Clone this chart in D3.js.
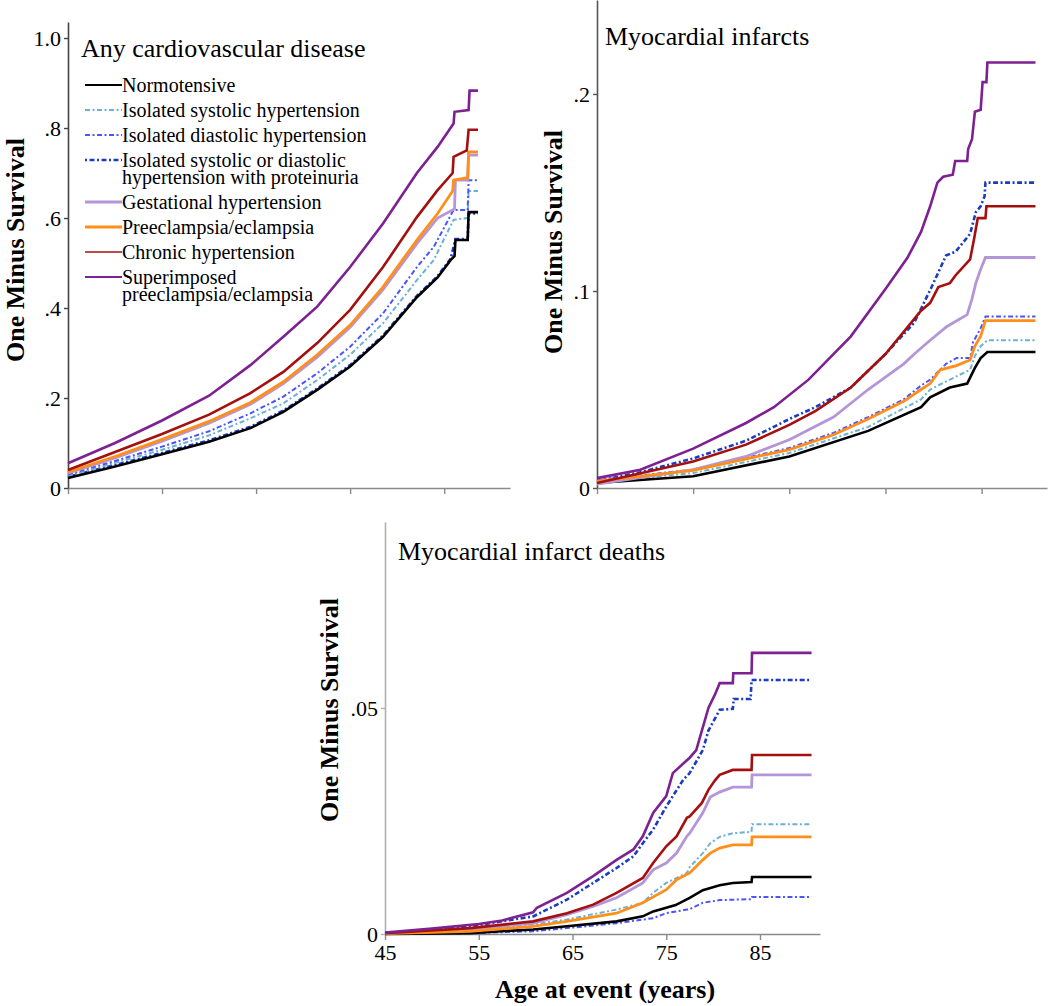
<!DOCTYPE html>
<html><head><meta charset="utf-8">
<script src="https://cdn.jsdelivr.net/npm/d3@7"></script>
<style>
body{margin:0;background:#fff}
svg{display:block}
text{font-family:"Liberation Serif","Times New Roman",serif;fill:#000}
</style>
</head><body>
<svg id="chart" width="1050" height="1006"></svg>
<script>
// ---------- categories ----------
const seriesNames = ["Normotensive","Isolated systolic hypertension","Isolated diastolic hypertension",
  "Isolated systolic or diastolic hypertension with proteinuria","Gestational hypertension",
  "Preeclampsia/eclampsia","Chronic hypertension","Superimposed preeclampsia/eclampsia"];
const legendLabels = [["Normotensive"],["Isolated systolic hypertension"],["Isolated diastolic hypertension"],
  ["Isolated systolic or diastolic","hypertension with proteinuria"],["Gestational hypertension"],
  ["Preeclampsia/eclampsia"],["Chronic hypertension"],["Superimposed","preeclampsia/eclampsia"]];
const panelTitles = ["Any cardiovascular disease","Myocardial infarcts","Myocardial infarct deaths"];
const yAxisTitle = "One Minus Survival";
const xAxisTitle = "Age at event (years)";

// ---------- tick values / labels ----------
const xTickValues = [45,55,65,75,85];
const xTickLabels = ["45","55","65","75","85"];
const cvdYTicks = [0,0.2,0.4,0.6,0.8,1.0];
const cvdYTickLabels = ["0",".2",".4",".6",".8","1.0"];
const miYTicks = [0,0.1,0.2];
const miYTickLabels = ["0",".1",".2"];
const deathYTicks = [0,0.05];
const deathYTickLabels = ["0",".05"];

// ---------- Any cardiovascular disease: [age, 1 - survival] ----------
const cvdNormo = [[45,0.022],[50,0.048],[55,0.075],[60,0.103],[64.4,0.133],[67.9,0.169],[71.5,0.218],[75,0.27],[78.5,0.336],[82.1,0.424],[84.3,0.468],[85.7,0.507],[86.1,0.515],[86.2,0.551],[87.5,0.551],[87.6,0.613],[88.6,0.613]];
const cvdSystolic = [[45,0.026],[50,0.056],[55,0.085],[60,0.117],[64.4,0.155],[67.9,0.188],[71.5,0.24],[75,0.296],[78.5,0.366],[82.1,0.462],[83.9,0.507],[86,0.596],[87.5,0.6],[87.6,0.66],[88.6,0.66]];
const cvdDiastolic = [[45,0.03],[50,0.06],[55,0.092],[60,0.126],[64.4,0.166],[67.9,0.203],[71.5,0.255],[75,0.314],[78.5,0.388],[82.1,0.491],[83.9,0.536],[86,0.618],[87.5,0.618],[87.6,0.684],[88.6,0.684]];
const cvdProteinuria = [[45,0.025],[50,0.051],[55,0.078],[60,0.106],[64.4,0.136],[67.9,0.172],[71.5,0.221],[75,0.273],[78.5,0.339],[82.1,0.427],[84.3,0.471],[85.7,0.51],[86.2,0.553],[87.5,0.553],[87.6,0.61],[88.6,0.61]];
const cvdGestational = [[45,0.033],[50,0.067],[55,0.104],[60,0.144],[64.4,0.186],[67.9,0.232],[71.5,0.291],[75,0.357],[78.5,0.441],[82.1,0.543],[84.3,0.6],[86.1,0.62],[86.2,0.684],[87.5,0.684],[87.6,0.74],[88.6,0.74]];
const cvdPreeclampsia = [[45,0.035],[50,0.07],[55,0.108],[60,0.148],[64.4,0.19],[67.9,0.236],[71.5,0.296],[75,0.362],[78.5,0.447],[82.1,0.551],[84.3,0.61],[85.9,0.66],[86,0.684],[87.5,0.69],[87.6,0.747],[88.6,0.747]];
const cvdChronic = [[45,0.04],[50,0.08],[55,0.12],[60,0.163],[64.4,0.211],[67.9,0.258],[71.5,0.322],[75,0.396],[78.5,0.491],[82.1,0.602],[84.3,0.662],[85.9,0.7],[86,0.736],[87.4,0.75],[87.6,0.796],[88.6,0.796]];
const cvdSuperimposed = [[45,0.055],[50,0.1],[55,0.15],[60,0.205],[64.4,0.273],[67.9,0.336],[71.5,0.403],[75,0.491],[78.5,0.588],[82.1,0.70],[84.3,0.758],[86,0.81],[86.1,0.836],[87.6,0.84],[87.7,0.883],[88.6,0.883]];

// ---------- Myocardial infarcts ----------
const miNormo = [[45,0.0025],[55,0.006],[65,0.016],[73.2,0.029],[78.7,0.041],[79.65,0.046],[81.7,0.051],[83.5,0.053],[84.3,0.061],[84.9,0.066],[85.6,0.069],[90.6,0.069]];
const miSystolic = [[45,0.003],[55,0.0076],[65,0.0178],[73.2,0.031],[78.7,0.045],[79.65,0.05],[82.1,0.056],[83.8,0.06],[84.3,0.067],[84.9,0.072],[85.6,0.075],[90.6,0.075]];
const miDiastolic = [[45,0.004],[55,0.0093],[65,0.0203],[69.6,0.028],[73.2,0.036],[76.9,0.045],[78.7,0.052],[79.65,0.055],[81.3,0.063],[82.4,0.066],[83.8,0.066],[84.1,0.074],[84.9,0.081],[85.4,0.087],[90.6,0.087]];
const miProteinuria = [[45,0.0035],[49.5,0.008],[55,0.015],[60.5,0.024],[65,0.035],[67.7,0.041],[71.4,0.051],[75,0.068],[78,0.084],[79.8,0.102],[81.3,0.118],[82.3,0.12],[83.8,0.129],[84.4,0.14],[84.9,0.143],[85.3,0.148],[85.4,0.155],[90.6,0.155]];
const miGestational = [[45,0.002],[55,0.0093],[60.5,0.016],[65,0.0245],[69.6,0.036],[73.2,0.05],[76.9,0.063],[78,0.068],[79.65,0.075],[81.4,0.082],[83.5,0.088],[84,0.096],[84.4,0.104],[84.9,0.111],[85.4,0.117],[90.6,0.117]];
const miPreeclampsia = [[45,0.0035],[55,0.009],[65,0.0195],[69.6,0.027],[73.2,0.035],[76.9,0.044],[78.7,0.05],[79.65,0.053],[80.7,0.06],[82.3,0.062],[83.8,0.065],[84.3,0.072],[84.9,0.077],[85.4,0.085],[90.6,0.085]];
const miChronic = [[45,0.0025],[55,0.0135],[60.5,0.022],[65,0.032],[67.7,0.039],[71.4,0.051],[75,0.068],[78.7,0.09],[79.65,0.094],[80.5,0.102],[81.7,0.104],[82.3,0.108],[83.8,0.116],[84.2,0.126],[84.6,0.137],[85.4,0.137],[85.5,0.143],[90.6,0.143]];
const miSuperimposed = [[45,0.005],[49.5,0.0093],[55,0.02],[60.5,0.033],[63.4,0.041],[67,0.055],[71.4,0.077],[75,0.101],[77.3,0.117],[78.7,0.13],[79.65,0.143],[80.4,0.155],[81,0.158],[82,0.159],[82.25,0.166],[83.5,0.166],[83.6,0.172],[84,0.177],[84.3,0.191],[84.9,0.192],[85.1,0.206],[85.5,0.206],[85.6,0.216],[90.6,0.216]];

// ---------- Myocardial infarct deaths ----------
const deathNormo = [[45,0],[54.1,0.0002],[60.8,0.001],[64.4,0.0017],[69.7,0.0028],[72.5,0.0039],[73.6,0.005],[75,0.0058],[76,0.0064],[77.5,0.008],[78.9,0.0097],[80.7,0.0108],[82.1,0.0113],[84.1,0.0115],[84.15,0.0126],[90.5,0.0126]];
const deathSystolic = [[45,0.0001],[54.1,0.0008],[60.8,0.0021],[64.4,0.0032],[69.7,0.0054],[72.5,0.0069],[73.6,0.0091],[75,0.0113],[77.2,0.0135],[77.5,0.0148],[78.9,0.0179],[79.7,0.0201],[80.7,0.0215],[82.1,0.0223],[84.1,0.0226],[84.15,0.0243],[90.5,0.0243]];
const deathDiastolic = [[45,0],[54.1,0.0002],[60.8,0.0006],[64.4,0.0013],[69.7,0.0024],[73.6,0.0035],[75,0.0046],[77.2,0.0054],[77.5,0.0055],[78.9,0.0069],[80.7,0.0075],[84.1,0.0077],[84.15,0.0082],[90.5,0.0082]];
const deathProteinuria = [[45,0.0002],[50,0.0008],[54.1,0.0017],[60.8,0.0039],[61.5,0.0046],[64.4,0.0076],[67.2,0.0113],[69.7,0.0146],[71.5,0.0172],[72.5,0.0201],[73.6,0.0231],[75,0.0282],[76.8,0.0341],[77.5,0.0356],[78.9,0.0407],[79.5,0.045],[80.7,0.0496],[82.1,0.0498],[82.2,0.052],[84,0.052],[84.1,0.0562],[90.5,0.0562]];
const deathGestational = [[45,0.0002],[54.1,0.001],[60.8,0.0024],[64.4,0.0043],[67.2,0.0061],[69.7,0.008],[72.5,0.0113],[73.6,0.0142],[75,0.0157],[76.1,0.0179],[77.2,0.0216],[77.5,0.0223],[78.9,0.0268],[79.7,0.0303],[80.7,0.0314],[82.1,0.0325],[84.1,0.0325],[84.15,0.0352],[90.5,0.0352]];
const deathPreeclampsia = [[45,0.0001],[54.1,0.0006],[60.8,0.0017],[64.4,0.0028],[69.7,0.0046],[72.5,0.0069],[75,0.0098],[76.1,0.012],[77.5,0.0135],[78.9,0.0164],[79.7,0.0179],[80.7,0.019],[82.1,0.0197],[84.1,0.0197],[84.15,0.0215],[90.5,0.0215]];
const deathChronic = [[45,0.0002],[54.1,0.0013],[60.8,0.0028],[64.4,0.0046],[67.2,0.0065],[69.7,0.0091],[72.5,0.0124],[73.6,0.0157],[75,0.0194],[76.1,0.0216],[77.2,0.0257],[77.5,0.026],[78.8,0.029],[79.5,0.0319],[80.2,0.034],[80.7,0.0352],[82.1,0.0363],[84.1,0.0363],[84.15,0.0396],[90.5,0.0396]];
const deathSuperimposed = [[45,0.0003],[50,0.0012],[55,0.0022],[57.5,0.003],[60.8,0.0048],[61.2,0.0058],[64.4,0.0091],[67.2,0.0128],[69.7,0.0164],[71.5,0.0187],[72.5,0.0216],[73.6,0.0268],[75,0.0305],[75.7,0.0356],[77.5,0.039],[78.2,0.0407],[78.8,0.045],[79.5,0.05],[80.2,0.053],[80.7,0.0555],[82.1,0.0555],[82.15,0.0577],[84.1,0.0577],[84.15,0.0622],[90.5,0.0622]];

// ---------- styles ----------
const styles = [
  {color:"#000000", width:2.6, dash:null, lw:2.2},
  {color:"#6cb0d6", width:2.0, dash:"5,2.5,2,2.5", lw:2.0},
  {color:"#4a55ff", width:2.0, dash:"5,2.5,2,2.5", lw:2.0},
  {color:"#1b3cc0", width:2.6, dash:"2,2.5,5,2.5", lw:2.6},
  {color:"#b496d8", width:2.8, dash:null, lw:2.8},
  {color:"#ff8f1a", width:2.8, dash:null, lw:3},
  {color:"#a3100f", width:2.6, dash:null, lw:1.6},
  {color:"#7d2192", width:2.6, dash:null, lw:2.2}
];
const drawOrder = [3,1,2,0,4,5,6,7];

const svg = d3.select("#chart");

function drawPanel(cfg) {
  const x = d3.scaleLinear().domain(cfg.xDomain).range(cfg.xRange);
  const y = d3.scaleLinear().domain(cfg.yDomain).range(cfg.yRange);
  const g = svg.append("g");

  const xa = g.append("g").attr("transform", `translate(0,${cfg.yRange[0]})`)
    .call(d3.axisBottom(x).tickValues(xTickValues)
      .tickFormat((d,i) => cfg.showXLabels ? xTickLabels[i] : "")
      .tickSize(6).tickSizeOuter(0).tickPadding(4));
  xa.attr("font-family", null);
  xa.select(".domain").attr("stroke", cfg.xAxisColor).attr("stroke-width", 1.6);
  xa.selectAll(".tick line").attr("stroke", cfg.xAxisColor).attr("stroke-width", 1.4);
  xa.selectAll(".tick text").style("font-family","'Liberation Serif',serif").style("font-size","22px").attr("fill","#000");

  const ya = g.append("g").attr("transform", `translate(${cfg.xRange[0]},0)`)
    .call(d3.axisLeft(y).tickValues(cfg.yTicks)
      .tickFormat((d,i) => cfg.yTickLabels[i])
      .tickSize(4).tickSizeOuter(0).tickPadding(3));
  ya.attr("font-family", null);
  ya.select(".domain").attr("stroke", cfg.yAxisColor).attr("stroke-width", 1.6);
  ya.selectAll(".tick line").attr("stroke", cfg.yAxisColor).attr("stroke-width", 1.4);
  ya.selectAll(".tick text").style("font-family","'Liberation Serif',serif").style("font-size","22px").attr("fill","#000");

  const line = d3.line().x(d => x(d[0])).y(d => y(d[1])).curve(d3.curveLinear);
  drawOrder.forEach(i => {
    const s = styles[i];
    g.append("path").datum(cfg.series[i])
      .attr("d", line).attr("fill","none")
      .attr("stroke", s.color).attr("stroke-width", s.width)
      .attr("stroke-linejoin","miter").attr("stroke-linecap","butt")
      .attr("stroke-dasharray", s.dash);
  });

  g.append("text").attr("x", cfg.titleX).attr("y", cfg.titleY)
    .style("font-size","26px").text(cfg.title);

  g.append("text").attr("transform", `translate(${cfg.yTitleX},${cfg.yTitleY}) rotate(-90)`)
    .attr("text-anchor","middle").style("font-size","26px").style("font-weight","bold")
    .text(yAxisTitle);
  return {x, y};
}

drawPanel({
  xDomain:[45,92], xRange:[68,510], yDomain:[0,1.0356], yRange:[488,22],
  yTicks:cvdYTicks, yTickLabels:cvdYTickLabels, showXLabels:false,
  xAxisColor:"#8a8a8a", yAxisColor:"#444",
  series:[cvdNormo,cvdSystolic,cvdDiastolic,cvdProteinuria,cvdGestational,cvdPreeclampsia,cvdChronic,cvdSuperimposed],
  title:panelTitles[0], titleX:81, titleY:57, yTitleX:24, yTitleY:250
});
drawPanel({
  xDomain:[45,91.8], xRange:[597,1047], yDomain:[0,0.2477], yRange:[488,0],
  yTicks:miYTicks, yTickLabels:miYTickLabels, showXLabels:false,
  xAxisColor:"#8a8a8a", yAxisColor:"#555",
  series:[miNormo,miSystolic,miDiastolic,miProteinuria,miGestational,miPreeclampsia,miChronic,miSuperimposed],
  title:panelTitles[1], titleX:605, titleY:45, yTitleX:562, yTitleY:242
});
drawPanel({
  xDomain:[45,91.4], xRange:[385,820], yDomain:[0,0.09115], yRange:[934,522],
  yTicks:deathYTicks, yTickLabels:deathYTickLabels, showXLabels:true,
  xAxisColor:"#8a8a8a", yAxisColor:"#b0b0b0",
  series:[deathNormo,deathSystolic,deathDiastolic,deathProteinuria,deathGestational,deathPreeclampsia,deathChronic,deathSuperimposed],
  title:panelTitles[2], titleX:398, titleY:560, yTitleX:338, yTitleY:710
});

svg.append("text").attr("x", 605).attr("y", 998).attr("text-anchor","middle")
  .style("font-size","26px").style("font-weight","bold").text(xAxisTitle);

// legend: multi-line labels as one text element with tspans
const legend = svg.append("g");
let ly = 85;
legendLabels.forEach((lines, i) => {
  const s = styles[i];
  legend.append("line").attr("x1",85).attr("x2",122).attr("y1",ly).attr("y2",ly)
    .attr("stroke", s.color).attr("stroke-width", s.lw).attr("stroke-dasharray", s.dash);
  const t = legend.append("text").attr("x",122).attr("y", ly + 7).style("font-size","20px");
  lines.forEach((str, j) => {
    t.append("tspan").attr("x",122).attr("dy", j === 0 ? 0 : 17).text(str);
  });
  ly += 25 + (lines.length - 1) * 17;
});
</script>
</body></html>
